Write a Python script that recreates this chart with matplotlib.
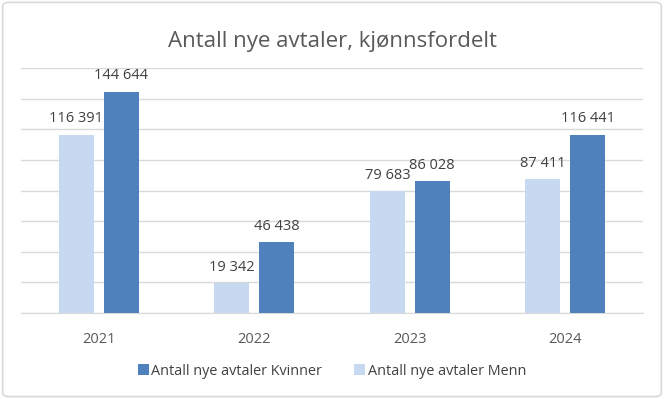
import matplotlib.pyplot as plt
from matplotlib.patches import FancyBboxPatch
import numpy as np

years = ["2021", "2022", "2023", "2024"]
menn = [116391, 19342, 79683, 87411]
kvinner = [144644, 46438, 86028, 116441]

title = "Antall nye avtaler, kjønnsfordelt"
label_kvinner = "Antall nye avtaler Kvinner"
label_menn = "Antall nye avtaler Menn"

dark = "#4F81BD"
light = "#C6D9F0"
grid = "#D9D9D9"
text_dark = "#404040"
text_mid = "#595959"

plt.rcParams["font.family"] = ["Open Sans", "DejaVu Sans"]

fig = plt.figure(figsize=(6.64, 3.99), dpi=100)
# light rounded frame around the chart area, kept behind the axes
frame = FancyBboxPatch((0.004, 0.006), 0.992, 0.988,
                       boxstyle="round,pad=0,rounding_size=0.01",
                       transform=fig.transFigure, facecolor="white",
                       edgecolor=grid, linewidth=1.2, zorder=-10)
fig.patches.append(frame)

ax = fig.add_axes([0.0316, 0.2155, 0.9368, 0.6141])
x = np.arange(len(years))
w = 0.225
off = 0.1435

b_menn = ax.bar(x - off, menn, w, color=light, label=label_menn, zorder=3)
b_kv = ax.bar(x + off, kvinner, w, color=dark, label=label_kvinner, zorder=3)

fmt = lambda v: f"{v:,.0f}".replace(",", " ")
ax.bar_label(b_menn, labels=[fmt(v) for v in menn], padding=6,
             fontsize=10.5, color=text_dark)
ax.bar_label(b_kv, labels=[fmt(v) for v in kvinner], padding=6,
             fontsize=10.5, color=text_dark)

ax.set_xlim(-0.5, len(years) - 0.5)
ax.set_ylim(0, 160000)
ax.set_yticks(np.arange(0, 160001, 20000))
ax.yaxis.grid(True, color=grid, linewidth=1)
ax.set_axisbelow(True)
ax.tick_params(axis="y", left=False, labelleft=False)
ax.tick_params(axis="x", bottom=False, labelsize=10.5, labelcolor=text_mid, pad=10)
ax.set_xticks(x)
ax.set_xticklabels(years)
for s in ["top", "right", "left"]:
    ax.spines[s].set_visible(False)
ax.spines["bottom"].set_color(grid)
ax.patch.set_alpha(0)

fig.text(0.5, 0.895, title, ha="center", va="center", fontsize=16,
         color=text_mid)

handles = [b_kv, b_menn]
fig.legend(handles, [label_kvinner, label_menn], loc="center",
           bbox_to_anchor=(0.5, 0.07), ncol=2, frameon=False,
           fontsize=10.4, labelcolor=text_dark, handlelength=0.75,
           handleheight=0.75, handletextpad=0.2, columnspacing=2.2)

fig.savefig("out.png", dpi=100)
